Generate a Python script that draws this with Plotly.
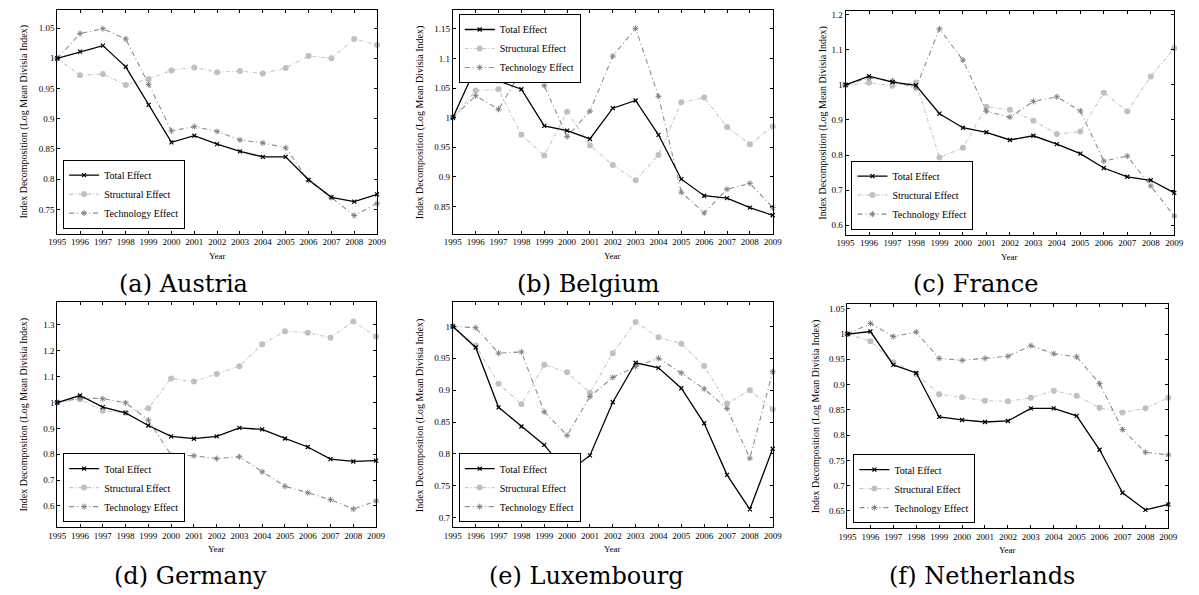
import plotly.graph_objects as go

years = [1995, 1996, 1997, 1998, 1999, 2000, 2001, 2002, 2003, 2004, 2005, 2006, 2007, 2008, 2009]
year_labels = ["1995", "1996", "1997", "1998", "1999", "2000", "2001", "2002", "2003", "2004",
               "2005", "2006", "2007", "2008", "2009"]
series_names = ["Total Effect", "Structural Effect", "Technology Effect"]

austria_total = [1.0, 1.011, 1.021, 0.986, 0.923, 0.861, 0.872, 0.858, 0.846, 0.837, 0.837, 0.799, 0.770, 0.763, 0.775]
austria_struct = [1.0, 0.972, 0.974, 0.956, 0.966, 0.980, 0.985, 0.977, 0.979, 0.975, 0.984, 1.004, 1.0, 1.032, 1.022]
austria_tech = [1.0, 1.041, 1.049, 1.032, 0.957, 0.880, 0.887, 0.879, 0.865, 0.860, 0.852, 0.798, 0.770, 0.740, 0.760]

belgium_total = [1.0, 1.085, 1.062, 1.048, 0.986, 0.978, 0.964, 1.016, 1.029, 0.971, 0.896, 0.868, 0.864, 0.848, 0.835]
belgium_struct = [1.0, 1.046, 1.048, 0.971, 0.936, 1.010, 0.953, 0.920, 0.894, 0.937, 1.026, 1.034, 0.984, 0.955, 0.985]
belgium_tech = [1.0, 1.037, 1.014, 1.079, 1.054, 0.968, 1.011, 1.104, 1.151, 1.036, 0.874, 0.839, 0.879, 0.889, 0.848]

france_total = [1.0, 1.025, 1.008, 0.999, 0.918, 0.878, 0.865, 0.843, 0.855, 0.831, 0.804, 0.763, 0.738, 0.728, 0.692]
france_struct = [1.0, 1.006, 0.998, 1.007, 0.793, 0.821, 0.938, 0.929, 0.898, 0.860, 0.867, 0.978, 0.925, 1.024, 1.105]
france_tech = [1.0, 1.020, 1.012, 0.991, 1.160, 1.071, 0.925, 0.908, 0.953, 0.966, 0.926, 0.783, 0.797, 0.712, 0.626]

germany_total = [1.0, 1.027, 0.982, 0.960, 0.911, 0.869, 0.860, 0.869, 0.902, 0.896, 0.861, 0.828, 0.781, 0.772, 0.775]
germany_struct = [1.0, 1.013, 0.968, 0.960, 0.978, 1.093, 1.081, 1.110, 1.140, 1.225, 1.276, 1.270, 1.251, 1.313, 1.255]
germany_tech = [1.0, 1.017, 1.015, 0.999, 0.932, 0.797, 0.794, 0.783, 0.790, 0.732, 0.676, 0.651, 0.624, 0.588, 0.619]

lux_total = [1.0, 0.967, 0.873, 0.843, 0.814, 0.770, 0.7975, 0.881, 0.943, 0.935, 0.903, 0.848, 0.767, 0.713, 0.808]
lux_struct = [1.0, 0.970, 0.910, 0.878, 0.940, 0.928, 0.896, 0.958, 1.007, 0.983, 0.973, 0.938, 0.879, 0.900, 0.870]
lux_tech = [1.0, 0.998, 0.958, 0.960, 0.866, 0.829, 0.890, 0.920, 0.937, 0.950, 0.927, 0.902, 0.871, 0.793, 0.929]

neth_total = [1.0, 1.005, 0.939, 0.923, 0.836, 0.830, 0.826, 0.828, 0.853, 0.853, 0.838, 0.771, 0.686, 0.652, 0.663]
neth_struct = [1.0, 0.986, 0.944, 0.921, 0.881, 0.875, 0.868, 0.867, 0.874, 0.888, 0.878, 0.854, 0.845, 0.853, 0.874]
neth_tech = [1.0, 1.021, 0.995, 1.004, 0.952, 0.948, 0.952, 0.956, 0.977, 0.961, 0.955, 0.902, 0.811, 0.766, 0.761]

captions = ["(a) Austria", "(b) Belgium", "(c) France", "(d) Germany", "(e) Luxembourg", "(f) Netherlands"]

ytick_labels = [
    ["0.75", "0.8", "0.85", "0.9", "0.95", "1", "1.05"],
    ["0.85", "0.9", "0.95", "1", "1.05", "1.1", "1.15"],
    ["0.6", "0.7", "0.8", "0.9", "1", "1.1", "1.2"],
    ["0.6", "0.7", "0.8", "0.9", "1", "1.1", "1.2", "1.3"],
    ["0.7", "0.75", "0.8", "0.85", "0.9", "0.95", "1"],
    ["0.65", "0.7", "0.75", "0.8", "0.85", "0.9", "0.95", "1", "1.05"],
]

panels_data = [
    (austria_total, austria_struct, austria_tech),
    (belgium_total, belgium_struct, belgium_tech),
    (france_total, france_struct, france_tech),
    (germany_total, germany_struct, germany_tech),
    (lux_total, lux_struct, lux_tech),
    (neth_total, neth_struct, neth_tech),
]

# ---- layout (pixel geometry) ----
W, H = 1199, 595
# (left, right, top, bottom) in pixels
boxes = [
    (49, 374, 9, 233),
    (451, 776, 9, 233),
    (850, 1184, 10, 234),
    (49, 373, 302, 527),
    (451, 776, 302, 527),
    (852, 1178, 304, 528),
]
yranges = [
    (0.71, 1.08),
    (0.804, 1.182),
    (0.573, 1.211),
    (0.518, 1.387),
    (0.685, 1.0376),
    (0.616, 1.0585),
]
ytitle_x = [15, 417, 827, 15, 417, 820]
caption_x = [177, 589, 982, 184, 587, 989]
caption_y = [283, 283, 283, 576, 576, 576]
legend_top = [False, True, False, False, False, False]

SERIF = "Liberation Serif"
CAPTION_FONT = "DejaVu Serif"

styles = [
    dict(line=dict(color="black", width=1.3, dash="solid"),
         marker=dict(symbol="x-thin", size=4, color="black", line=dict(color="black", width=1.2))),
    dict(line=dict(color="#c8c8c8", width=1.1, dash="4px,2px,1px,2px"),
         marker=dict(symbol="circle", size=6, color="#c0c0c0")),
    dict(line=dict(color="#8c8c8c", width=1.1, dash="5px,3px,1px,3px"),
         marker=dict(symbol="asterisk-open", size=5, color="#808080", line=dict(color="#7a7a7a", width=1))),
]

fig = go.Figure()
layout = dict(
    width=W, height=H,
    margin=dict(l=0, r=0, t=0, b=0),
    paper_bgcolor="white", plot_bgcolor="white",
    font=dict(family=SERIF, color="black", size=9),
    annotations=[],
)

for i, (series, box) in enumerate(zip(panels_data, boxes)):
    l, r, t, b = box
    n = i + 1
    xa = "xaxis" if n == 1 else f"xaxis{n}"
    ya = "yaxis" if n == 1 else f"yaxis{n}"
    xref = "x" if n == 1 else f"x{n}"
    yref = "y" if n == 1 else f"y{n}"
    leg = "legend" if n == 1 else f"legend{n}"
    order = [1, 2, 0]  # structural, technology, then total on top
    for s_idx in order:
        st = styles[s_idx]
        fig.add_trace(go.Scatter(
            x=years, y=series[s_idx], mode="lines+markers",
            name=series_names[s_idx], xaxis=xref, yaxis=yref,
            line=st["line"], marker=st["marker"], cliponaxis=False,
            legend=leg, legendrank=s_idx + 1, showlegend=True,
        ))
    tv = [float(v) for v in ytick_labels[i]]
    axis_common = dict(showline=True, linecolor="black", linewidth=1, mirror="ticks",
                       ticks="inside", ticklen=3, tickcolor="black", showgrid=False,
                       zeroline=False, tickfont=dict(family=SERIF, size=9, color="black"))
    layout[xa] = dict(domain=[l / W, r / W], range=[years[0], years[-1]],
                      tickvals=years, ticktext=year_labels, anchor=yref, **axis_common)
    layout[ya] = dict(domain=[1 - b / H, 1 - t / H], range=list(yranges[i]),
                      tickvals=tv, ticktext=ytick_labels[i], anchor=xref, **axis_common)
    if legend_top[i]:
        legpos = dict(x=(l + 6) / W, y=1 - (t + 4) / H, xanchor="left", yanchor="top")
    else:
        legpos = dict(x=(l + 6) / W, y=1 - (b - 5) / H, xanchor="left", yanchor="bottom")
    layout[leg] = dict(bgcolor="white", bordercolor="black", borderwidth=1,
                       font=dict(family=SERIF, size=10, color="black"),
                       tracegroupgap=0, itemwidth=30, traceorder="normal", **legpos)
    # axis titles
    layout["annotations"].append(dict(
        text="Year", x=(l + r) / 2 / W, y=1 - (b + 22) / H, xref="paper", yref="paper",
        showarrow=False, font=dict(family=SERIF, size=9), xanchor="center", yanchor="middle"))
    layout["annotations"].append(dict(
        text="Index Decomposition (Log Mean Divisia Index)", x=ytitle_x[i] / W,
        y=1 - (t + b) / 2 / H, xref="paper", yref="paper", textangle=-90,
        showarrow=False, font=dict(family=SERIF, size=10), xanchor="center", yanchor="middle"))
    layout["annotations"].append(dict(
        text=captions[i], x=caption_x[i] / W, y=1 - caption_y[i] / H, xref="paper", yref="paper",
        showarrow=False, font=dict(family=CAPTION_FONT, size=24), xanchor="center", yanchor="middle"))

fig.update_layout(**layout)
for n in range(1, 7):
    key = "legend" if n == 1 else f"legend{n}"
    fig.layout[key].font.family = SERIF
fig.write_html("out.html")
